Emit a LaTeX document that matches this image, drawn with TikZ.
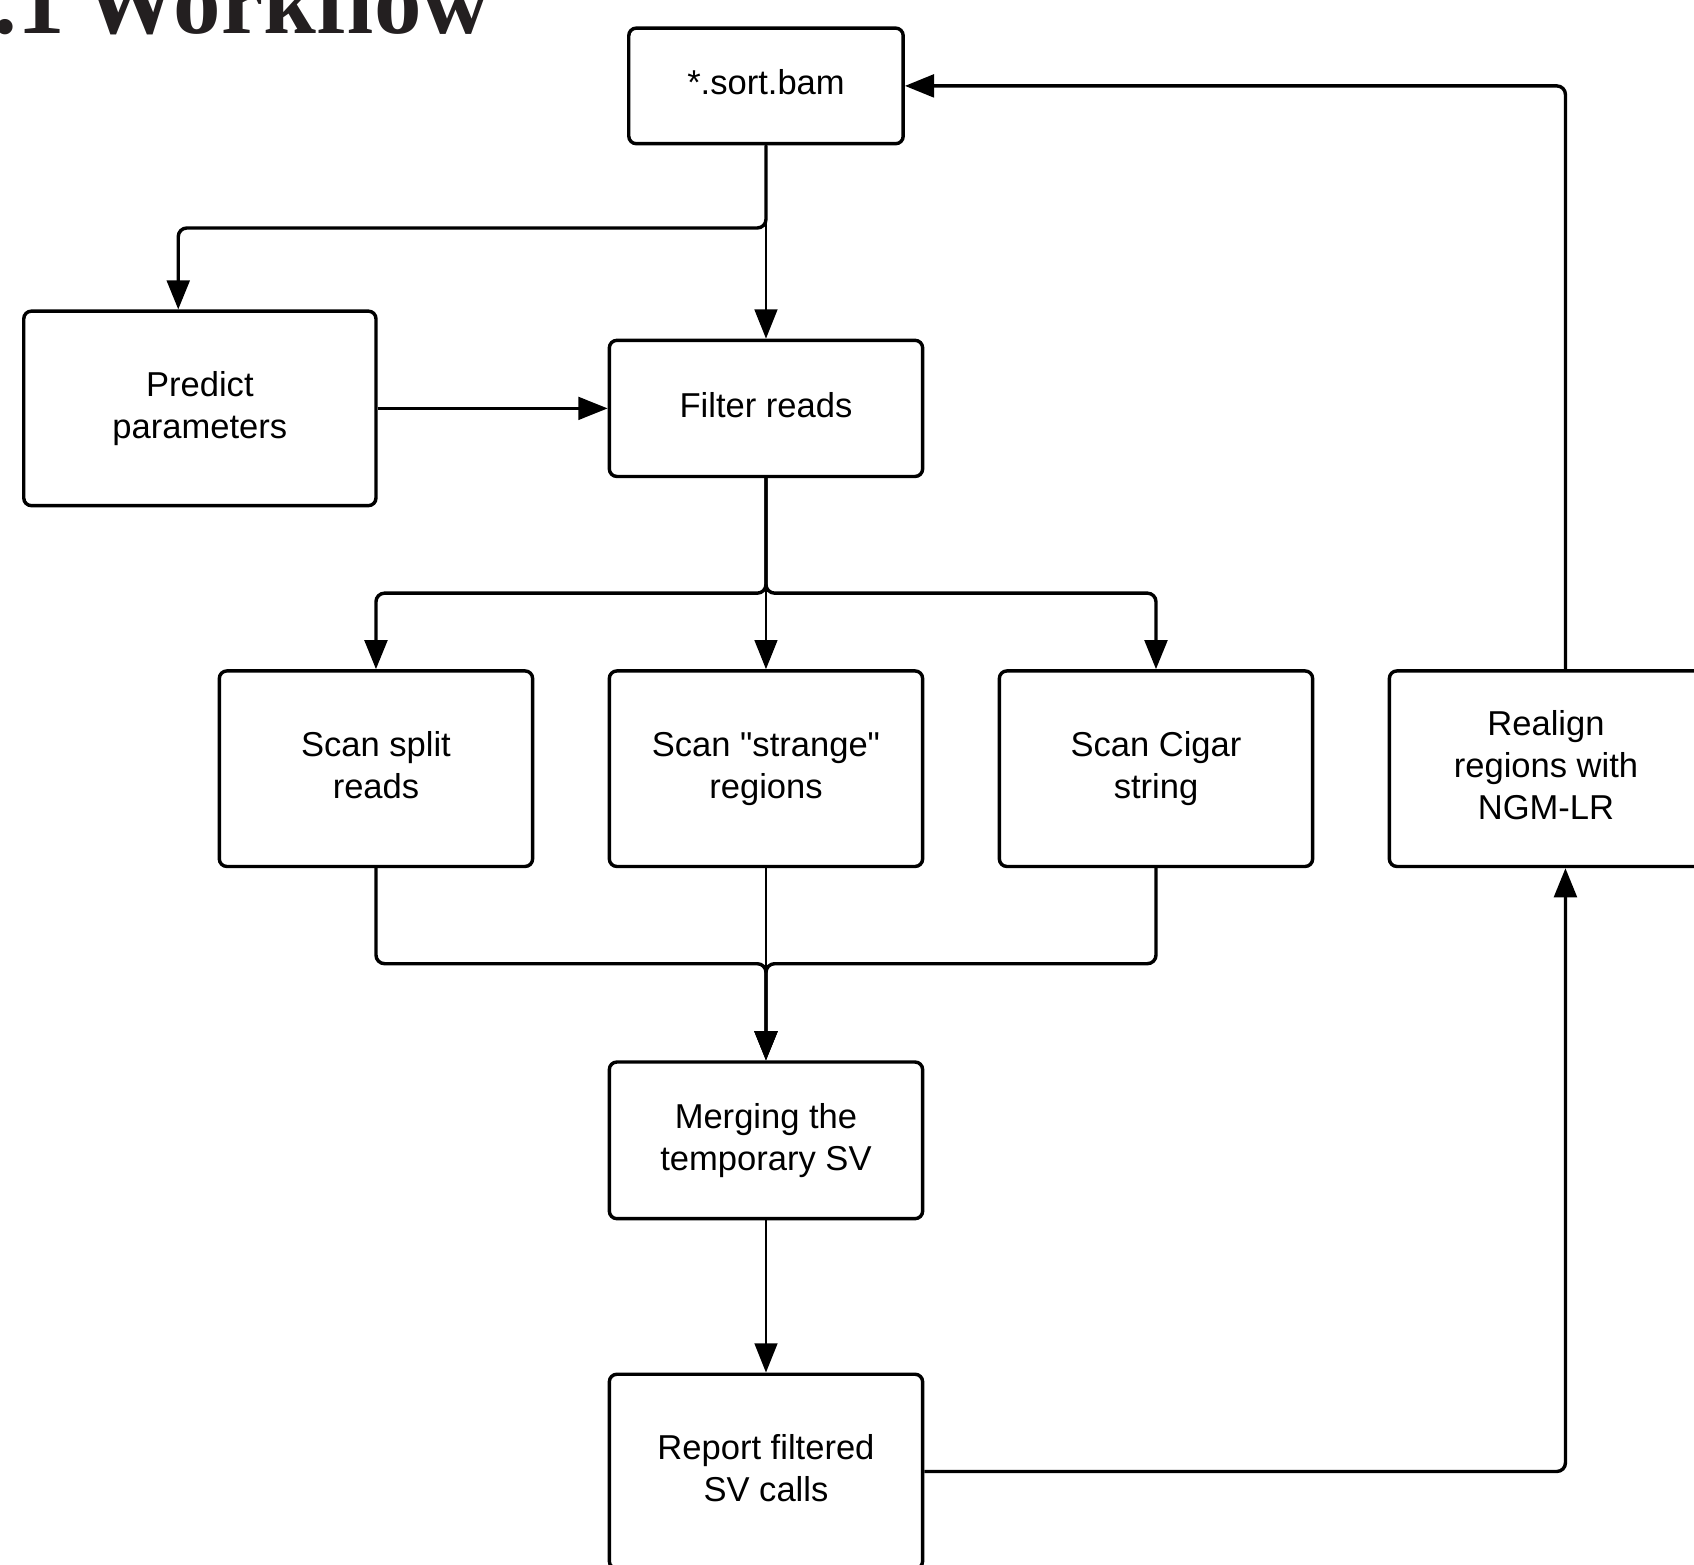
\documentclass[tikz,border=0pt]{standalone}
\usepackage{fontspec}
\setmainfont{Liberation Sans}
\newfontfamily\boxfont{Liberation Sans}
\newfontfamily\titlefont{Liberation Serif}
\usetikzlibrary{arrows.meta}
\definecolor{titlecol}{HTML}{231F20}
\begin{document}
\begin{tikzpicture}[
  box/.style={draw, line width=0.9pt, rounded corners=0.07cm, align=center,
    font=\boxfont\fontsize{9.1}{11}\selectfont, inner sep=0pt, text depth=1.9pt},
  tip/.style={-{Triangle[length=0.27cm,width=0.21cm]}},
  thinline/.style={line width=0.65pt, tip},
  thickline/.style={line width=0.9pt, rounded corners=0.08cm, tip},
]
\useasboundingbox (0,0) rectangle (15.68,-14.48);
\clip (0,0) rectangle (15.68,-14.48);

\node[anchor=base west, inner sep=0pt, text=titlecol,
  font=\titlefont\bfseries\fontsize{25}{28}\selectfont] (title) at (-0.065,-0.31) {.1\hspace{0.2em}Workflow};

\node[box, minimum width=2.54cm, minimum height=1.07cm] (sort) at (7.09,-0.795) {*.sort.bam};
\node[box, minimum width=3.26cm, minimum height=1.80cm] (predict) at (1.85,-3.78) {Predict\\parameters};
\node[box, minimum width=2.90cm, minimum height=1.26cm] (filter) at (7.09,-3.78) {Filter reads};
\node[box, minimum width=2.90cm, minimum height=1.81cm] (split) at (3.48,-7.115) {Scan split\\reads};
\node[box, minimum width=2.90cm, minimum height=1.81cm] (strange) at (7.09,-7.115) {Scan "strange"\\regions};
\node[box, minimum width=2.90cm, minimum height=1.81cm] (cigar) at (10.70,-7.115) {Scan Cigar\\string};
\node[box, minimum width=2.90cm, minimum height=1.81cm] (realign) at (14.31,-7.115) {Realign\\regions with\\NGM-LR};
\node[box, minimum width=2.90cm, minimum height=1.45cm] (merge) at (7.09,-10.555) {Merging the\\temporary SV};
\node[box, minimum width=2.90cm, minimum height=1.80cm] (report) at (7.09,-13.62) {Report filtered\\SV calls};

\coordinate (topsplit) at (0,-2.11);
\coordinate (predx) at (1.65,0);
\coordinate (midsplit) at (0,-5.49);
\coordinate (botjoin) at (0,-8.92);
\coordinate (rx) at (14.49,0);

% sort -> filter, sort -> predict
\draw[thinline] (sort.south) -- (filter.north);
\draw[thickline] (sort.south) -- (sort.south |- topsplit) -- (predx |- topsplit) -- (predx |- predict.north);
% predict -> filter
\draw[thinline] (predict.east) -- (filter.west);
% filter -> scans
\draw[thinline] (filter.south) -- (strange.north);
\draw[thickline] (filter.south) -- (filter.south |- midsplit) -- (split.north |- midsplit) -- (split.north);
\draw[thickline] (filter.south) -- (filter.south |- midsplit) -- (cigar.north |- midsplit) -- (cigar.north);
% scans -> merge
\draw[thinline] (strange.south) -- (merge.north);
\draw[thickline] (split.south) -- (split.south |- botjoin) -- (merge.north |- botjoin) -- (merge.north);
\draw[thickline] (cigar.south) -- (cigar.south |- botjoin) -- (merge.north |- botjoin) -- (merge.north);
% merge -> report
\draw[thinline] (merge.south) -- (report.north);
% report -> realign
\draw[thickline] (report.east) -- (rx |- report.east) -- (rx |- realign.south);
% realign -> sort
\draw[thickline] (rx |- realign.north) -- (rx |- sort.east) -- (sort.east);
\end{tikzpicture}
\end{document}
